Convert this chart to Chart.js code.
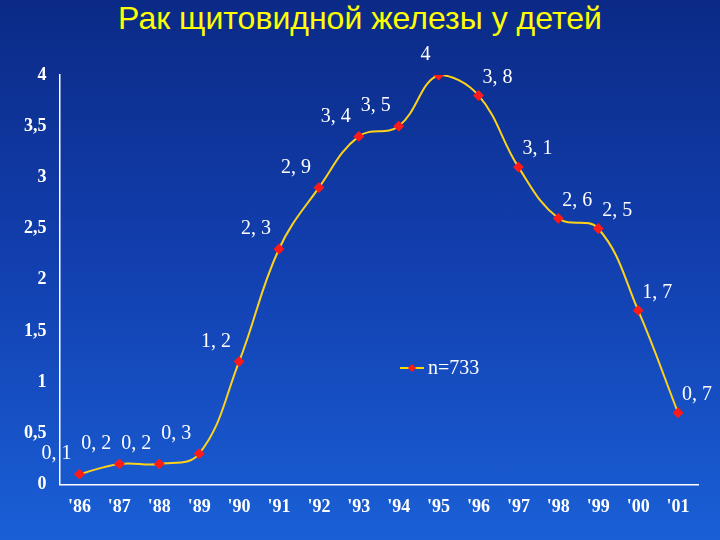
<!DOCTYPE html>
<html><head><meta charset="utf-8">
<script src="https://cdn.jsdelivr.net/npm/chart.js@4/dist/chart.umd.min.js"></script>
<style>
html,body{margin:0;padding:0;width:720px;height:540px;overflow:hidden;
background:linear-gradient(180deg,#0b2a86 0%,#1240b0 50%,#1a5fd6 100%);}
#t{position:absolute;left:0;top:0px;width:720px;text-align:center;color:#ffff00;font:32px "Liberation Sans",Arial,sans-serif;}
#w{position:absolute;left:0;top:40px;width:720px;height:500px;}
</style></head><body>
<div id="t">Рак щитовидной железы у детей</div>
<div id="w"><canvas id="c"></canvas></div>
<script>
const categories=["'86","'87","'88","'89","'90","'91","'92","'93","'94","'95","'96","'97","'98","'99","'00","'01"];
const values=[0.1,0.2,0.2,0.3,1.2,2.3,2.9,3.4,3.5,4,3.8,3.1,2.6,2.5,1.7,0.7];
const seriesName="n=733";
const fmt=v=>String(v).replace('.',', ');
const labelsPlugin={id:'lbl',afterDatasetsDraw(ch){
  const ctx=ch.ctx,meta=ch.getDatasetMeta(0);
  ctx.save();ctx.fillStyle='#fff';ctx.font='20px "Liberation Serif",serif';ctx.textBaseline='bottom';
  meta.data.forEach((p,i)=>{
    const v=values[i];
    if(i<=9){ctx.textAlign='right';ctx.fillText(fmt(v),p.x-8,p.y-10);}
    else{ctx.textAlign='left';ctx.fillText(fmt(v),p.x+4,p.y-8);}
  });
  const lx=400,ly=328;
  ctx.strokeStyle='#ffd700';ctx.lineWidth=2;ctx.beginPath();ctx.moveTo(lx,ly);ctx.lineTo(lx+24,ly);ctx.stroke();
  ctx.fillStyle='#ff1a1a';ctx.beginPath();ctx.moveTo(lx+12,ly-4);ctx.lineTo(lx+16,ly);ctx.lineTo(lx+12,ly+4);ctx.lineTo(lx+8,ly);ctx.fill();
  ctx.fillStyle='#fff';ctx.textAlign='left';ctx.textBaseline='middle';ctx.fillText(seriesName,lx+28,ly+1);
  ctx.restore();
}};
new Chart(document.getElementById('c'),{type:'line',
 data:{labels:categories,datasets:[{label:seriesName,data:values,borderColor:'#ffd21a',borderWidth:2,
  tension:0.4,pointStyle:'rectRot',pointRadius:4,pointBackgroundColor:'#ff1a1a',pointBorderColor:'#ff1a1a'}]},
 options:{responsive:true,maintainAspectRatio:false,animation:false,
  layout:{padding:{left:16,right:22,top:35,bottom:10}},
  plugins:{legend:{display:false},tooltip:{enabled:false}},
  scales:{
   x:{offset:true,grid:{display:false,drawTicks:false},border:{color:'#fff',width:1.5},
      ticks:{color:'#fff',font:{family:'"Liberation Serif",serif',size:18,weight:'bold'},padding:12,maxRotation:0,autoSkip:false}},
   y:{min:0,max:4,grid:{display:false,drawTicks:true,tickLength:5,color:'#fff'},border:{color:'#fff',width:1.5},
      ticks:{stepSize:0.5,color:'#fff',font:{family:'"Liberation Serif",serif',size:18,weight:'bold'},padding:8,
      callback:v=>String(v).replace('.',',')}}
  }}, plugins:[labelsPlugin]});
</script></body></html>
